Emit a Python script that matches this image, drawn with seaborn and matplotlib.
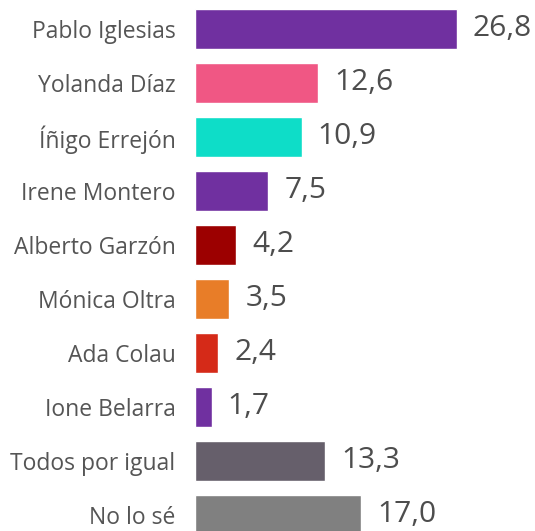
import matplotlib
matplotlib.use("Agg")
import matplotlib.pyplot as plt
import seaborn as sns
import pandas as pd

# Survey data
names = ["Pablo Iglesias", "Yolanda Díaz", "Íñigo Errejón", "Irene Montero",
         "Alberto Garzón", "Mónica Oltra", "Ada Colau", "Ione Belarra",
         "Todos por igual", "No lo sé"]
values = [26.8, 12.6, 10.9, 7.5, 4.2, 3.5, 2.4, 1.7, 13.3, 17.0]
colors = ["#7030A0", "#F05784", "#0EDDC8", "#7030A0", "#9C0000",
          "#E87D28", "#D52A18", "#7030A0", "#665F6B", "#808080"]

df = pd.DataFrame({"name": names, "value": values})

sns.set_theme(style="white")
plt.rcParams["font.family"] = ["Open Sans", "DejaVu Sans"]

fig = plt.figure(figsize=(5.35, 5.31), dpi=100)
W, H = 535, 531
ax = fig.add_axes([195 / W, 0, 1 - 195 / W, 1])

sns.barplot(data=df, x="value", y="name", hue="name", palette=colors,
            legend=False, width=0.75, ax=ax, saturation=1)

px_per_unit = (457 - 195) / 26.8
ax.set_xlim(0, (W - 195) / px_per_unit)
step = 54.0
c0 = 29.0
ax.set_ylim((H - c0) / step, -c0 / step)

text_color = "#555555"
for i, v in enumerate(values):
    ax.text(v + 16 / px_per_unit, i, f"{v:.1f}".replace(".", ","),
            va="center", ha="left", fontsize=21.5, color="#4d4d4d")

ax.set_xlabel("")
ax.set_ylabel("")
ax.set_xticks([])
ax.tick_params(axis="y", length=0, pad=14, labelsize=16.5, labelcolor=text_color)
for s in ax.spines.values():
    s.set_visible(False)

fig.savefig("out.png", dpi=100)
